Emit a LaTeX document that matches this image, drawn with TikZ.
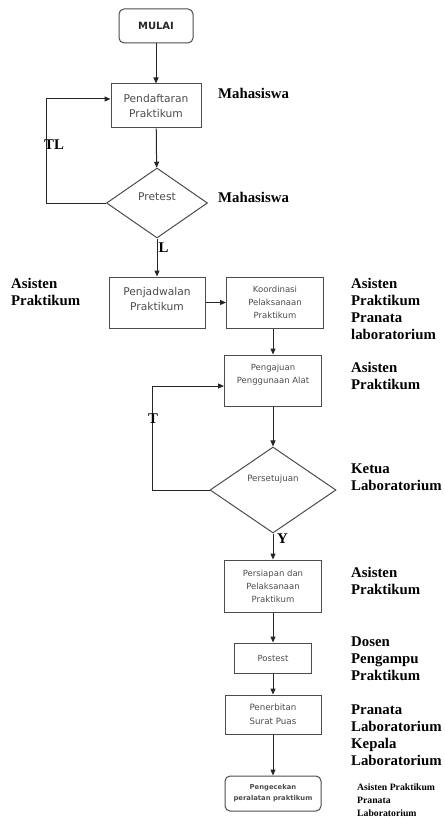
\documentclass[tikz,border=0pt]{standalone}
\usepackage{fontspec}
\setmainfont{Liberation Serif}
\newfontfamily\boxfont{DejaVu Sans}
\usetikzlibrary{shapes.geometric,arrows.meta}
\begin{document}
\begin{tikzpicture}[x=1pt,y=-1pt,
  line/.style={draw=black!85, line width=1pt},
  arr/.style={line, -{Triangle[length=6pt,width=5pt]}},
  proc/.style={draw=black!70, line width=1pt, rectangle, align=center, inner sep=0pt,
    text=black!70, font=\boxfont\fontsize{8.5}{13}\selectfont},
  bigproc/.style={proc, font=\boxfont\fontsize{10.7}{15}\selectfont},
  term/.style={proc, rounded corners=5pt},
  decision/.style={draw=black!70, line width=1pt, diamond, inner sep=0pt, align=center, text=black!70},
  role/.style={anchor=north west, inner sep=0pt, align=left, font=\bfseries\fontsize{14.8}{17}\selectfont},
  flag/.style={anchor=north west, inner sep=0pt, font=\bfseries\fontsize{14.8}{17}\selectfont}
]
\useasboundingbox (0,0) rectangle (444,821);

% process steps
\node[term, minimum width=74pt, minimum height=34pt, text=black!85,
      font=\boxfont\bfseries\fontsize{10}{12}\selectfont] (mulai) at (156,26) {MULAI};
\node[bigproc, minimum width=90pt, minimum height=44pt] (daftar) at (156,106) {Pendaftaran\\Praktikum};
\node[decision, minimum width=101pt, minimum height=70pt,
      font=\boxfont\fontsize{10.7}{13}\selectfont] (pretest) at (157,203) {Pretest\\\mbox{}};
\node[bigproc, minimum width=96pt, minimum height=51pt] (jadwal) at (157,302.5) {Penjadwalan\\Praktikum\\[-7pt]\mbox{}};
\node[proc, minimum width=97pt, minimum height=51pt] (koord) at (275,302.5) {Koordinasi\\Pelaksanaan\\Praktikum};
\node[proc, minimum width=97pt, minimum height=51pt] (ajuan) at (273,380.5) {Pengajuan\\Penggunaan Alat\\\mbox{}};
\node[decision, minimum width=126pt, minimum height=86pt,
      font=\boxfont\fontsize{8.7}{13}\selectfont] (setuju) at (273,490) {Persetujuan\\[10pt]\mbox{}};
\node[proc, minimum width=97pt, minimum height=52pt] (siap) at (273,586) {Persiapan dan\\Pelaksanaan\\Praktikum};
\node[proc, minimum width=77pt, minimum height=30pt] (postest) at (273,658) {Postest};
\node[proc, minimum width=96pt, minimum height=39pt,
      font=\boxfont\fontsize{8.7}{14}\selectfont] (terbit) at (273,714.5) {Penerbitan\\Surat Puas};
\node[term, minimum width=96pt, minimum height=35pt,
      font=\boxfont\bfseries\fontsize{6.8}{11}\selectfont] (selesai) at (273,793.5) {Pengecekan\\peralatan praktikum};

% connectors
\draw[arr] (mulai) -- (daftar);
\draw[arr] (daftar) -- (pretest);
\draw[arr] (pretest.south) -- (jadwal.north);
\coordinate (tlturn) at (46,203);
\draw[arr] (pretest.west) -- (tlturn) |- ([yshift=7pt]daftar.west);
\draw[arr] (jadwal.east |- koord.west) -- (koord.west);
\draw[arr] (koord.south -| ajuan.north) -- (ajuan.north);
\draw[arr] (ajuan) -- (setuju);
\coordinate (tturn) at (152,490);
\draw[arr] (setuju.west) -- (tturn) |- ([yshift=-5.5pt]ajuan.west);
\draw[arr] (setuju) -- (siap);
\draw[arr] (siap) -- (postest);
\draw[arr] (postest) -- (terbit);
\draw[arr] (terbit) -- (selesai);

% branch labels
\node[flag] (tl) at (44,140) {TL};
\node[flag] (l) at (158.5,243) {L};
\node[flag] (t) at (148,414) {T};
\node[flag] (y) at (277,534) {Y};

% responsible roles
\node[role] (r1) at (218,88) {Mahasiswa};
\node[role] (r2) at (218,192) {Mahasiswa};
\node[role] (r3) at (11,278) {Asisten\\Praktikum};
\node[role] (r4) at (351,278) {Asisten\\Praktikum\\Pranata\\laboratorium};
\node[role] (r5) at (351,362) {Asisten\\Praktikum};
\node[role] (r6) at (351,464) {Ketua\\Laboratorium};
\node[role] (r7) at (351,567) {Asisten\\Praktikum};
\node[role] (r8) at (351,637) {Dosen\\Pengampu\\Praktikum};
\node[role] (r9) at (351,705) {Pranata\\Laboratorium\\Kepala\\Laboratorium};
\node[role, font=\bfseries\fontsize{9.7}{12.8}\selectfont] (r10) at (357,784) {Asisten Praktikum\\Pranata\\Laboratorium};
\end{tikzpicture}
\end{document}
